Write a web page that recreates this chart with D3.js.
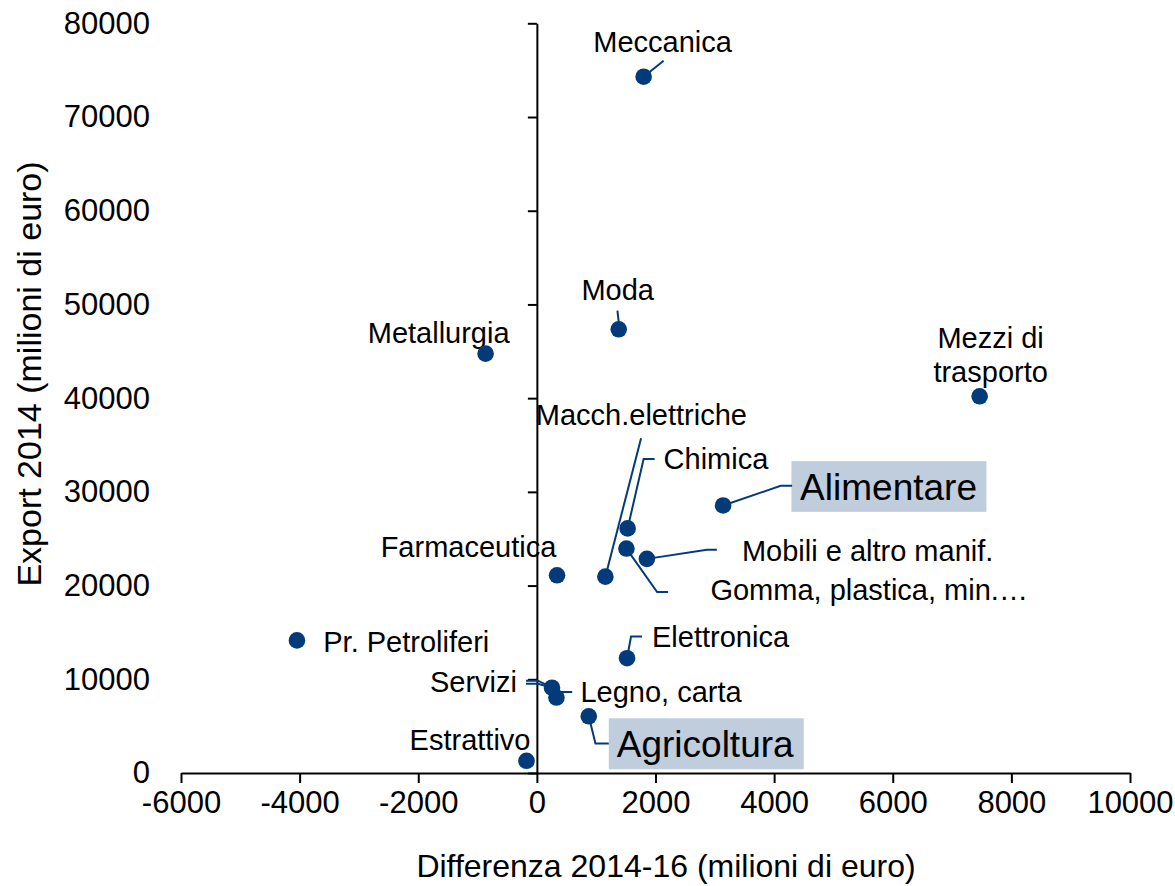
<!DOCTYPE html>
<html>
<head>
<meta charset="utf-8">
<script src="https://cdn.jsdelivr.net/npm/d3@7"></script>
<style>
  html, body { margin: 0; padding: 0; background: #fff; }
  svg { display: block; font-family: "Liberation Sans", Arial, sans-serif; }
</style>
</head>
<body>
<svg id="chart" width="1175" height="886"></svg>
<script>
// ---- Data ----
const sectors = ["Meccanica", "Moda", "Metallurgia", "Mezzi di trasporto", "Macch.elettriche",
  "Chimica", "Alimentare", "Mobili e altro manif.", "Gomma, plastica, min.…", "Farmaceutica",
  "Elettronica", "Pr. Petroliferi", "Servizi", "Legno, carta", "Agricoltura", "Estrattivo"];
const diff2014_16 = [1800, 1380, -865, 7465, 1155, 1530, 3140, 1855, 1510, 340,
  1520, -4045, 255, 330, 875, -175];
const export2014 = [74300, 47350, 44750, 40200, 20950, 26100, 28550, 22850, 23950, 21100,
  12250, 14150, 9100, 8050, 6050, 1300];
const xTicks = [-6000, -4000, -2000, 0, 2000, 4000, 6000, 8000, 10000];
const yTicks = [0, 10000, 20000, 30000, 40000, 50000, 60000, 70000, 80000];
const xTitle = "Differenza 2014-16 (milioni di euro)";
const yTitle = "Export 2014 (milioni di euro)";
const highlighted = ["Alimentare", "Agricoltura"];

// ---- Label layout (pixel offsets from each point) ----
const labelLayout = {
  "Meccanica": { dx: 19, dy: -25, anchor: "middle", leaders: [[[0,0],[20,-16]]] },
  "Moda": { dx: -1, dy: -29, anchor: "middle", leaders: [[[-1.3,-18.6],[0,-7]]] },
  "Metallurgia": { dx: 24, dy: -11, anchor: "end" },
  "Mezzi di trasporto": { dx: 11, dy: -48, anchor: "middle", lines: ["Mezzi di", "trasporto"], lh: 33.7 },
  "Macch.elettriche": { dx: 36, dy: -152, anchor: "middle", leaders: [[[0,0],[35.7,-138.4]]] },
  "Chimica": { dx: 36, dy: -59, anchor: "start", leaders: [[[0,0],[16,-69.3],[27,-69.3]]] },
  "Alimentare": { dx: 77, dy: -5.5, anchor: "start", big: true, box: [68.3, -44.3, 195, 50.7],
                  leaders: [[[0,0],[57.6,-19.6],[69,-19.6]]] },
  "Mobili e altro manif.": { dx: 95, dy: 1.7, anchor: "start", leaders: [[[0,0],[60,-9],[70,-9]]] },
  "Gomma, plastica, min.…": { dx: 84, dy: 51.7, anchor: "start", leaders: [[[0,0],[30.7,43.4],[41.7,43.4]]] },
  "Farmaceutica": { dx: -0.7, dy: -18.6, anchor: "end" },
  "Elettronica": { dx: 25, dy: -11.6, anchor: "start", leaders: [[[0,0],[4,-21.6],[15,-21.6]]] },
  "Pr. Petroliferi": { dx: 26.3, dy: 11.7, anchor: "start" },
  "Servizi": { dx: -35, dy: 4, anchor: "end", leaders: [[[-26,-7],[-14,-7],[0,0]], [[-26,-4],[-14,-4],[0,0]]] },
  "Legno, carta": { dx: 24, dy: 4.4, anchor: "start", leaders: [[[0,0],[2.3,-5.6],[15.7,-5.6]]] },
  "Agricoltura": { dx: 28, dy: 41, anchor: "start", big: true, box: [20, 2, 195, 51],
                   leaders: [[[0,0],[6.7,27.3],[20,27.3]]] },
  "Estrattivo": { dx: 4, dy: -10.7, anchor: "end" }
};

const NAVY = "#033b7a";
const BOXFILL = "#bfcddd";

const svg = d3.select("#chart");
const x = d3.scaleLinear().domain([-6000, 10000]).range([181, 1130]);
const y = d3.scaleLinear().domain([0, 80000]).range([773, 23.3]);

// X axis
const xAxis = svg.append("g")
  .attr("transform", `translate(0,${y(0)})`)
  .call(d3.axisBottom(x).tickValues(xTicks).tickFormat(d3.format("d"))
        .tickSize(10).tickSizeOuter(0).tickPadding(8));
xAxis.select(".domain").attr("stroke", "#000").attr("stroke-width", 2);
xAxis.selectAll(".tick line").attr("stroke", "#000").attr("stroke-width", 2);
xAxis.selectAll(".tick text").attr("font-size", 31).attr("fill", "#000")
  .attr("font-family", "'Liberation Sans', Arial, sans-serif")
  .text(d => d < 0 ? "-" + Math.abs(d) : d);

// Y axis
const yAxis = svg.append("g")
  .attr("transform", `translate(${x(0)},0)`)
  .call(d3.axisLeft(y).tickValues(yTicks).tickFormat(d3.format("d"))
        .tickSize(9).tickSizeOuter(0).tickPadding(x(0) - 9 - 150));
yAxis.select(".domain").attr("stroke", "#000").attr("stroke-width", 2);
yAxis.selectAll(".tick line").attr("stroke", "#000").attr("stroke-width", 2);
yAxis.selectAll(".tick text").attr("font-size", 31).attr("fill", "#000")
  .attr("font-family", "'Liberation Sans', Arial, sans-serif");

// Axis titles
svg.append("text").attr("x", 666).attr("y", 877).attr("text-anchor", "middle")
  .attr("font-size", 32).attr("fill", "#000").text(xTitle);
svg.append("text").attr("transform", `translate(41,374) rotate(-90)`).attr("text-anchor", "middle")
  .attr("font-size", 34).attr("fill", "#000").text(yTitle);

const pts = sectors.map((s, i) => ({ name: s, px: x(diff2014_16[i]), py: y(export2014[i]), L: labelLayout[s] }));

// Boxes for highlighted labels
const lblG = svg.append("g");
pts.filter(p => p.L.box).forEach(p => {
  lblG.append("rect").attr("x", p.px + p.L.box[0]).attr("y", p.py + p.L.box[1])
    .attr("width", p.L.box[2]).attr("height", p.L.box[3]).attr("fill", BOXFILL);
});

// Leader lines
const line = d3.line();
pts.forEach(p => {
  (p.L.leaders || []).forEach(ld => {
    lblG.append("path").attr("d", line(ld.map(q => [p.px + q[0], p.py + q[1]])))
      .attr("fill", "none").attr("stroke", NAVY).attr("stroke-width", 2);
  });
});

// Label text
pts.forEach(p => {
  const t = lblG.append("text")
    .attr("x", p.px + p.L.dx).attr("y", p.py + p.L.dy)
    .attr("text-anchor", p.L.anchor)
    .attr("font-size", highlighted.includes(p.name) ? 37 : 29)
    .attr("fill", "#000");
  if (p.L.lines) {
    p.L.lines.forEach((ln, k) => t.append("tspan").attr("x", p.px + p.L.dx)
      .attr("dy", k === 0 ? 0 : p.L.lh).text(ln));
  } else {
    t.text(p.name);
  }
});

// Points
svg.append("g").selectAll("circle").data(pts).join("circle")
  .attr("cx", d => d.px).attr("cy", d => d.py).attr("r", 8.3).attr("fill", NAVY);
</script>
</body>
</html>
